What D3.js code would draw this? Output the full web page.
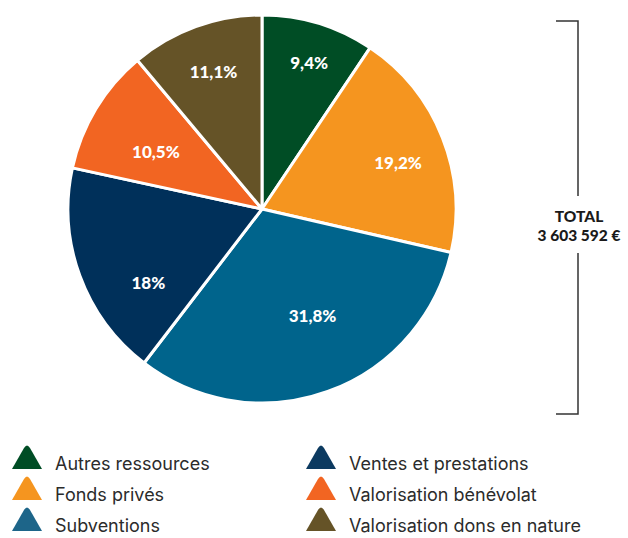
<!DOCTYPE html>
<html>
<head>
<meta charset="utf-8">
<script src="https://cdn.jsdelivr.net/npm/d3@7"></script>
<style>
  body { margin: 0; background: #fff; }
  svg { display: block; }
</style>
</head>
<body>
<div id="chart"></div>
<script>
// data
var categories = ["Autres ressources", "Fonds privés", "Subventions",
                  "Ventes et prestations", "Valorisation bénévolat", "Valorisation dons en nature"];
var shares = [9.4, 19.2, 31.8, 18, 10.5, 11.1];
var shareLabels = ["9,4%", "19,2%", "31,8%", "18%", "10,5%", "11,1%"];
var totalLabel = ["TOTAL", "3 603 592 €"];

var colors = ["#004d25", "#f5951f", "#00648c", "#00305a", "#f26522", "#655327"];
var legendColors = ["#004d25", "#f5951f", "#1d6589", "#0c3a60", "#f26522", "#655327"];
// label placement: share of radius and angle nudge (degrees)
var labelRadius = [0.79, 0.74, 0.61, 0.70, 0.62, 0.75];
var labelNudge = [1, 3, -5.5, -13, -3, 0.5];

var width = 628, height = 538;
var cx = 262, cy = 209, r = 194;

var svg = d3.select("#chart").append("svg")
    .attr("width", width)
    .attr("height", height);

var pie = d3.pie().sort(null).value(function(d) { return d; });
var arcs = pie(shares);
var arc = d3.arc().innerRadius(0).outerRadius(r);

var g = svg.append("g").attr("transform", "translate(" + cx + "," + cy + ")");

g.selectAll("path.slice")
  .data(arcs)
  .enter().append("path")
    .attr("class", "slice")
    .attr("d", arc)
    .attr("fill", function(d, i) { return colors[i]; })
    .attr("stroke", "#fff")
    .attr("stroke-width", 3)
    .attr("stroke-linejoin", "round");

g.selectAll("text.pct")
  .data(arcs)
  .enter().append("text")
    .attr("class", "pct")
    .attr("transform", function(d, i) {
      var a = (d.startAngle + d.endAngle) / 2 + labelNudge[i] * Math.PI / 180;
      var rr = r * labelRadius[i];
      return "translate(" + (Math.sin(a) * rr) + "," + (-Math.cos(a) * rr) + ")";
    })
    .attr("text-anchor", "middle")
    .attr("dy", "0.36em")
    .attr("fill", "#fff")
    .style("font-family", "Lato, sans-serif")
    .style("font-weight", 900)
    .style("font-size", "17px")
    .text(function(d, i) { return shareLabels[i]; });

// total bracket
var bx = 578;
var bracket = svg.append("g")
    .attr("stroke", "#333")
    .attr("stroke-width", 1.5)
    .attr("fill", "none");
bracket.append("path").attr("d", "M556,21H" + bx + "V196");
bracket.append("path").attr("d", "M" + bx + ",253V414H556");

svg.selectAll("text.total")
  .data(totalLabel)
  .enter().append("text")
    .attr("class", "total")
    .attr("x", bx + 1)
    .attr("y", function(d, i) { return 222 + i * 18.5; })
    .attr("text-anchor", "middle")
    .attr("fill", "#1a1a1a")
    .style("font-family", "Lato, sans-serif")
    .style("font-weight", 900)
    .style("font-size", "15.5px")
    .style("letter-spacing", "0px")
    .text(function(d) { return d; });

// legend
var legend = svg.selectAll("g.leg")
  .data(categories)
  .enter().append("g")
    .attr("class", "leg")
    .attr("transform", function(d, i) {
      var col = Math.floor(i / 3), row = i % 3;
      return "translate(" + (12 + col * 294) + "," + (469 + row * 31) + ")";
    });

// rounded-top triangle icon
legend.append("path")
    .attr("d", "M0,0L12,-21Q15,-26 18,-21L30,0Z")
    .attr("fill", function(d, i) { return legendColors[i]; });

legend.append("text")
    .attr("x", 43)
    .attr("y", 1)
    .attr("fill", "#2b2b2b")
    .style("font-family", "Inter, sans-serif")
    .style("font-size", "18px")
    .style("letter-spacing", "0px")
    .text(function(d) { return d; });
</script>
</body>
</html>
